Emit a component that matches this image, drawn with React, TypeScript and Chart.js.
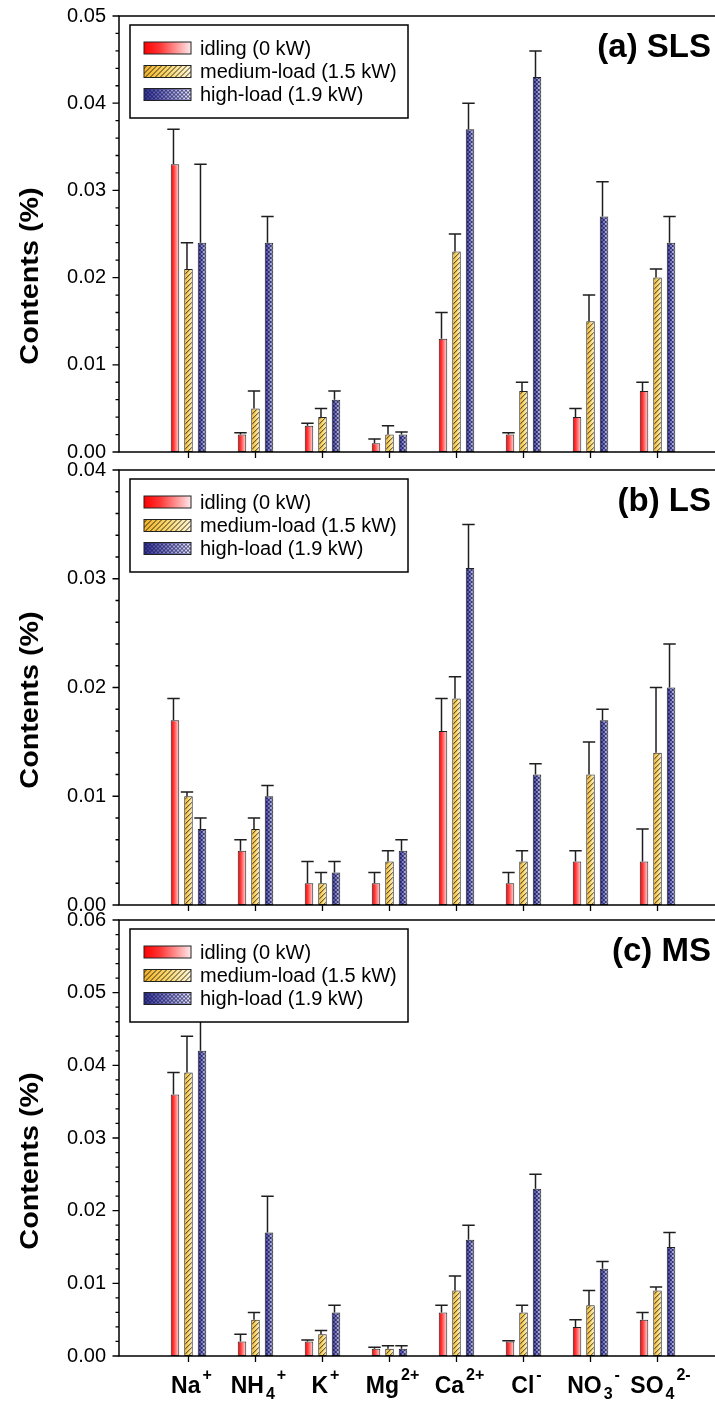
import React, { useEffect, useRef } from 'react';
import { Chart, registerables } from 'chart.js';

Chart.register(...registerables);

const FONT = '"Liberation Sans", Arial, Helvetica, sans-serif';
const W = 715;
const H = 1403;

// ---------- categories ----------
const ION_BASE = ['Na', 'NH', 'K', 'Mg', 'Ca', 'Cl', 'NO', 'SO'];
const ION_SUB = ['', '4', '', '', '', '', '3', '4'];
const ION_SUP = ['+', '+', '+', '2+', '2+', '-', '-', '2-'];

const SERIES_NAMES = ['idling (0 kW)', 'medium-load (1.5 kW)', 'high-load (1.9 kW)'];

// ---------- (a) SLS ----------
const SLS_IDLE = [0.033, 0.002, 0.003, 0.001, 0.013, 0.002, 0.004, 0.007];
const SLS_IDLE_SD = [0.004, 0.0002, 0.0003, 0.0005, 0.003, 0.0002, 0.001, 0.001];
const SLS_MED = [0.021, 0.005, 0.004, 0.002, 0.023, 0.007, 0.015, 0.02];
const SLS_MED_SD = [0.003, 0.002, 0.001, 0.001, 0.002, 0.001, 0.003, 0.001];
const SLS_HIGH = [0.024, 0.024, 0.006, 0.002, 0.037, 0.043, 0.027, 0.024];
const SLS_HIGH_SD = [0.009, 0.003, 0.001, 0.0003, 0.003, 0.003, 0.004, 0.003];

// ---------- (b) LS ----------
const LS_IDLE = [0.017, 0.005, 0.002, 0.002, 0.016, 0.002, 0.004, 0.004];
const LS_IDLE_SD = [0.002, 0.001, 0.002, 0.001, 0.003, 0.001, 0.001, 0.003];
const LS_MED = [0.01, 0.007, 0.002, 0.004, 0.019, 0.004, 0.012, 0.014];
const LS_MED_SD = [0.0004, 0.001, 0.001, 0.001, 0.002, 0.001, 0.003, 0.006];
const LS_HIGH = [0.007, 0.01, 0.003, 0.005, 0.031, 0.012, 0.017, 0.02];
const LS_HIGH_SD = [0.001, 0.001, 0.001, 0.001, 0.004, 0.001, 0.001, 0.004];

// ---------- (c) MS ----------
const MS_IDLE = [0.036, 0.002, 0.002, 0.001, 0.006, 0.002, 0.004, 0.005];
const MS_IDLE_SD = [0.003, 0.001, 0.0002, 0.0002, 0.001, 0.0001, 0.001, 0.001];
const MS_MED = [0.039, 0.005, 0.003, 0.001, 0.009, 0.006, 0.007, 0.009];
const MS_MED_SD = [0.005, 0.001, 0.0005, 0.0004, 0.002, 0.001, 0.002, 0.0005];
const MS_HIGH = [0.042, 0.017, 0.006, 0.001, 0.016, 0.023, 0.012, 0.015];
const MS_HIGH_SD = [0.005, 0.005, 0.001, 0.0004, 0.002, 0.002, 0.001, 0.002];

const Y_MINOR_STEP = 0.002;
const Y_MAJOR_EVERY = 5;

const PANELS = [
  { title: '(a) SLS', yMax: 0.05, top: 16, bottom: 452, yTitleCenter: 276, xLabels: false,
    means: [SLS_IDLE, SLS_MED, SLS_HIGH], sds: [SLS_IDLE_SD, SLS_MED_SD, SLS_HIGH_SD] },
  { title: '(b) LS', yMax: 0.04, top: 470, bottom: 905, yTitleCenter: 700, xLabels: false,
    means: [LS_IDLE, LS_MED, LS_HIGH], sds: [LS_IDLE_SD, LS_MED_SD, LS_HIGH_SD] },
  { title: '(c) MS', yMax: 0.06, top: 920, bottom: 1356, yTitleCenter: 1161, xLabels: true,
    means: [MS_IDLE, MS_MED, MS_HIGH], sds: [MS_IDLE_SD, MS_MED_SD, MS_HIGH_SD] },
];

// ---------- layout / style ----------
const PLOT_LEFT = 119;
const X_MIN = -1.037;
const X_MAX = 7.858;
const CAT_PCT = 0.6045;
const BAR_PCT = 0.63;
const KINDS = ['grad', 'hatch', 'cross'];

const STOPS: Record<string, [number, string][]> = {
  grad: [[0, '#ff0000'], [0.35, '#ff3838'], [1, '#ffe8e8']],
  hatch: [[0, '#f4b42a'], [0.5, '#fbd86c'], [1, '#fff6d6']],
  cross: [[0, '#34349c'], [0.5, '#8888cc'], [1, '#e8e8fb']],
};
const HATCH_P: Record<string, number> = { hatch: 5, cross: 4 };
const HATCH_W: Record<string, number> = { hatch: 0.85, cross: 0.75 };
const HATCH_C: Record<string, string> = { hatch: '#111', cross: '#12124e' };
const FALLBACK: Record<string, string> = { grad: '#ff6060', hatch: '#f5cf60', cross: '#5858a8' };

function paintFill(g: CanvasRenderingContext2D, kind: string, x: number, y: number, w: number, h: number, gw?: number) {
  g.save();
  g.beginPath();
  g.rect(x, y, w, h);
  g.clip();
  const grad = g.createLinearGradient(x, 0, x + (gw ?? w), 0);
  STOPS[kind].forEach(([o, c]) => grad.addColorStop(o, c));
  g.fillStyle = grad;
  g.fillRect(x, y, w, h);
  if (kind !== 'grad') {
    const P = HATCH_P[kind];
    g.strokeStyle = HATCH_C[kind];
    g.lineWidth = HATCH_W[kind];
    g.beginPath();
    for (let c = -h - P * 2; c <= w + h + P * 2; c += P) {
      g.moveTo(x + c, y);
      g.lineTo(x + c - h, y + h);
      if (kind === 'cross') {
        g.moveTo(x + c, y);
        g.lineTo(x + c + h, y + h);
      }
    }
    g.stroke();
  }
  g.restore();
}

const tileCache: Record<string, HTMLCanvasElement> = {};
function getTile(kind: string, width: number) {
  const key = kind + ':' + width.toFixed(3);
  if (tileCache[key]) return tileCache[key];
  const c = document.createElement('canvas');
  const P = HATCH_P[kind] || 4;
  const th = Math.round(P * 8);
  c.width = Math.ceil(width);
  c.height = th;
  const g = c.getContext('2d')!;
  paintFill(g, kind, 0, 0, c.width, th, width);
  tileCache[key] = c;
  return c;
}

function barFill(kind: string) {
  return (ctx: any) => {
    const chart = ctx.chart;
    const xs = chart.scales && chart.scales.x;
    if (ctx.type !== 'data' || !xs || !(xs.width > 0)) return FALLBACK[kind];
    const step = xs.getPixelForValue(1) - xs.getPixelForValue(0);
    const chunk = (step * CAT_PCT) / 3;
    const width = chunk * BAR_PCT;
    const center = xs.getPixelForValue(ctx.dataIndex) + (ctx.datasetIndex - 1) * chunk;
    const left = center - width / 2;
    const tile = getTile(kind, width);
    const pat = chart.ctx.createPattern(tile, 'repeat');
    if (!pat) return FALLBACK[kind];
    pat.setTransform(new DOMMatrix([1, 0, 0, 1, left, 0]));
    return pat;
  };
}

function drawIonLabel(ctx: CanvasRenderingContext2D, i: number, cx: number, baseY: number) {
  const base = ION_BASE[i];
  const sub = ION_SUB[i];
  const sup = ION_SUP[i];
  const fMain = `bold 23px ${FONT}`;
  const fSmall = `bold 16px ${FONT}`;
  ctx.font = fMain;
  const wb = ctx.measureText(base).width;
  ctx.font = fSmall;
  const ws = sub ? ctx.measureText(sub).width : 0;
  const wp = sup ? ctx.measureText(sup).width : 0;
  const total = wb + 2 + ws + (sub ? 2 : 0) + wp;
  let x = cx - total / 2 + 3;
  ctx.textAlign = 'left';
  ctx.textBaseline = 'alphabetic';
  ctx.fillStyle = '#000';
  ctx.font = fMain;
  ctx.fillText(base, x, baseY);
  x += wb + 2;
  ctx.font = fSmall;
  if (sub) {
    ctx.fillText(sub, x, baseY + 6);
    x += ws + 2;
  }
  if (sup) ctx.fillText(sup, x, baseY - 13);
}

function decorPlugin(panel: any) {
  return {
    id: 'decor',
    afterDatasetsDraw(chart: any) {
      const ctx: CanvasRenderingContext2D = chart.ctx;
      const xs = chart.scales.x;
      const ys = chart.scales.y;
      const { left, right, top, bottom } = chart.chartArea;
      ctx.save();

      // error bars
      ctx.strokeStyle = '#1e1e1e';
      ctx.lineWidth = 1.5;
      for (let s = 0; s < 3; s++) {
        const meta = chart.getDatasetMeta(s);
        meta.data.forEach((bar: any, i: number) => {
          const v = panel.means[s][i] + panel.sds[s][i];
          const x = bar.x - 1.5;
          const yErr = ys.getPixelForValue(v);
          ctx.beginPath();
          ctx.moveTo(x, bar.y);
          ctx.lineTo(x, yErr);
          ctx.moveTo(x - 6.2, yErr);
          ctx.lineTo(x + 6.2, yErr);
          ctx.stroke();
        });
      }

      // axes frame
      ctx.strokeStyle = '#000';
      ctx.lineWidth = 1.5;
      ctx.beginPath();
      ctx.moveTo(right, top);
      ctx.lineTo(left, top);
      ctx.lineTo(left, bottom);
      ctx.lineTo(right, bottom);
      ctx.stroke();

      // y ticks
      ctx.lineWidth = 1.3;
      const n = Math.round(panel.yMax / Y_MINOR_STEP);
      ctx.beginPath();
      for (let k = 0; k <= n; k++) {
        const y = ys.getPixelForValue(k * Y_MINOR_STEP);
        const len = k % Y_MAJOR_EVERY === 0 ? 6.5 : 3.5;
        ctx.moveTo(left, y);
        ctx.lineTo(left - len, y);
      }
      // x ticks
      ION_BASE.forEach((_, i) => {
        const x = xs.getPixelForValue(i);
        ctx.moveTo(x, bottom);
        ctx.lineTo(x, bottom + 6);
      });
      ctx.stroke();

      // y tick labels
      ctx.fillStyle = '#000';
      ctx.font = `20px ${FONT}`;
      ctx.textAlign = 'right';
      ctx.textBaseline = 'middle';
      for (let k = 0; k <= n; k += Y_MAJOR_EVERY) {
        const v = k * Y_MINOR_STEP;
        ctx.fillText(v.toFixed(2), 106, ys.getPixelForValue(v));
      }

      // y axis title
      ctx.save();
      ctx.translate(31, panel.yTitleCenter);
      ctx.rotate(-Math.PI / 2);
      ctx.scale(1.15, 1);
      ctx.font = `bold 25px ${FONT}`;
      ctx.textAlign = 'center';
      ctx.textBaseline = 'middle';
      ctx.fillText('Contents (%)', 0, 0);
      ctx.restore();

      // panel title
      ctx.font = `bold 33px ${FONT}`;
      ctx.textAlign = 'right';
      ctx.textBaseline = 'alphabetic';
      ctx.fillText(panel.title, 711, top + 41);

      // legend
      const lx = 130;
      const ly = top + 9;
      const lw = 278;
      const lh = 93;
      ctx.fillStyle = '#fff';
      ctx.fillRect(lx, ly, lw, lh);
      ctx.strokeStyle = '#000';
      ctx.lineWidth = 1.5;
      ctx.strokeRect(lx, ly, lw, lh);
      const rowCenters = [top + 32, top + 55.5, top + 78.5];
      KINDS.forEach((kind, s) => {
        const cy = rowCenters[s];
        paintFill(ctx, kind, 144, cy - 6, 47, 12);
        ctx.strokeStyle = '#222';
        ctx.lineWidth = 1;
        ctx.strokeRect(144, cy - 6, 47, 12);
        ctx.fillStyle = '#000';
        ctx.font = `20px ${FONT}`;
        ctx.textAlign = 'left';
        ctx.textBaseline = 'middle';
        ctx.fillText(SERIES_NAMES[s], 200, cy + 1);
      });

      // x labels
      if (panel.xLabels) {
        ION_BASE.forEach((_, i) => drawIonLabel(ctx, i, xs.getPixelForValue(i), 1393));
      }

      ctx.restore();
    },
  };
}

function Panel({ panel }: { panel: any }) {
  const ref = useRef<HTMLCanvasElement>(null);
  useEffect(() => {
    const canvas = ref.current;
    if (!canvas) return;
    const chart = new Chart(canvas, {
      type: 'bar',
      data: {
        datasets: KINDS.map((kind, s) => ({
          label: SERIES_NAMES[s],
          data: panel.means[s].map((v: number, i: number) => ({ x: i, y: v })),
          backgroundColor: barFill(kind),
          borderColor: '#222',
          borderWidth: 1,
          borderSkipped: false,
          categoryPercentage: CAT_PCT,
          barPercentage: BAR_PCT,
        })),
      },
      options: {
        responsive: false,
        animation: false,
        devicePixelRatio: 1,
        events: [],
        layout: { padding: { left: PLOT_LEFT, right: 0, top: panel.top, bottom: H - panel.bottom } },
        scales: {
          x: {
            type: 'linear',
            display: false,
            min: X_MIN,
            max: X_MAX,
            offset: false,
            afterBuildTicks: (sc: any) => {
              sc.ticks = ION_BASE.map((_, i) => ({ value: i }));
            },
          },
          y: { type: 'linear', display: false, min: 0, max: panel.yMax },
        },
        plugins: { legend: { display: false }, tooltip: { enabled: false }, title: { display: false } },
      } as any,
      plugins: [decorPlugin(panel)],
    });
    return () => chart.destroy();
  }, [panel]);
  return (
    <canvas
      ref={ref}
      width={W}
      height={H}
      style={{ position: 'absolute', left: 0, top: 0, width: W, height: H }}
    />
  );
}

export default function App() {
  return (
    <div style={{ position: 'absolute', left: 0, top: 0, width: W, height: H, background: '#fff', overflow: 'hidden' }}>
      {PANELS.map((p, i) => (
        <Panel key={i} panel={p} />
      ))}
    </div>
  );
}
